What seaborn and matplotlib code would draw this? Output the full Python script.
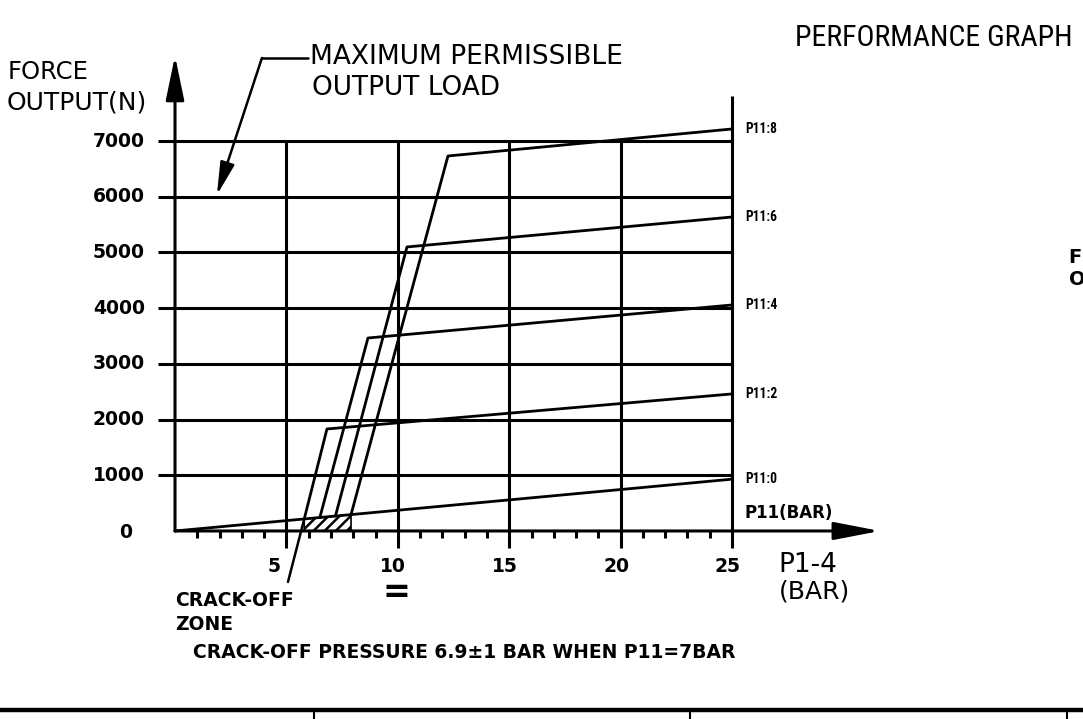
import numpy as np
import pandas as pd
import matplotlib
matplotlib.use("Agg")
import matplotlib.pyplot as plt
import seaborn as sns
from matplotlib import font_manager

# curve labels (P11 pressure, bar)
p11_labels = ['P11:0', 'P11:2', 'P11:4', 'P11:6', 'P11:8']

# base line P11:0
base_p14 = [0, 25]
base_force = [0, 930]

# P11:2..8 curves: leave the base line, rise steeply to a knee, then flat-ish to 25 bar
start_p14 = [5.8, 6.5, 7.2, 7.9]
start_force = [216, 242, 268, 294]
knee_p14 = [6.82, 8.66, 10.41, 12.25]
knee_force = [1831, 3464, 5098, 6731]
end_p14 = 25
end_force = [2460, 4057, 5636, 7216]

# axis ticks
x_ticks = [5, 10, 15, 20, 25]
x_minor = [i for i in range(1, 25) if i % 5]
y_ticks = [1000, 2000, 3000, 4000, 5000, 6000, 7000]

# crack-off zone (P1-4 range)
crack_zone = [5.8, 7.9]

# long table for seaborn
rows = [('P11:0', x, y) for x, y in zip(base_p14, base_force)]
for i, lab in enumerate(p11_labels[1:]):
    rows.append((lab, start_p14[i], start_force[i]))
    rows.append((lab, knee_p14[i], knee_force[i]))
    rows.append((lab, end_p14, end_force[i]))
df = pd.DataFrame(rows, columns=['curve', 'p14', 'force'])

sns.set_style('white')
plt.rcParams['font.family'] = ['DejaVu Sans']
plt.rcParams['text.color'] = 'black'
plt.rcParams['hatch.linewidth'] = 1.8

# pick a narrow face if one is installed
names = {f.name for f in font_manager.fontManager.ttflist}
narrow = 'DejaVu Sans'
for cand in ['Liberation Sans Narrow', 'Noto Sans ExtraCondensed', 'Noto Sans Condensed',
             'Roboto Condensed', 'DejaVu Sans Condensed', 'Open Sans Condensed']:
    if cand in names:
        narrow = cand
        break

fig = plt.figure(figsize=(10.83, 7.19), dpi=100)
ax = fig.add_axes([0, 0, 1, 1])

lw = 2.2
# grid
for y in y_ticks:
    ax.plot([-0.76, 25], [y, y], color='black', lw=lw, solid_capstyle='butt')
for x in x_ticks[:-1]:
    ax.plot([x, x], [-305, 7000], color='black', lw=lw, solid_capstyle='butt')
ax.plot([25, 25], [-305, 7800], color='black', lw=lw, solid_capstyle='butt')
for x in x_minor:
    ax.plot([x, x], [0, -125], color='black', lw=lw, solid_capstyle='butt')

# axes with arrows
ax.annotate('', xy=(31.64, 0), xytext=(0, 0),
            arrowprops=dict(arrowstyle='-|>,head_length=1.4,head_width=0.27', color='black',
                            lw=lw, shrinkA=0, shrinkB=0, mutation_scale=20))
ax.annotate('', xy=(0, 8530), xytext=(0, 0),
            arrowprops=dict(arrowstyle='-|>,head_length=1.35,head_width=0.28', color='black',
                            lw=lw, shrinkA=0, shrinkB=0, mutation_scale=20))

# curves
sns.lineplot(data=df, x='p14', y='force', units='curve', estimator=None, sort=False,
             color='black', lw=2.0, ax=ax, legend=False)

# crack-off zone hatch
zx = np.array(crack_zone)
zy = np.interp(zx, base_p14, base_force)
ax.fill_between(zx, 0, zy, hatch='///', facecolor='white', edgecolor='black', lw=1.2, zorder=1)
# leader from crack-off zone label (extension of the P11:2 rise)
ax.plot([start_p14[0], 5.07], [start_force[0], -915], color='black', lw=1.8)

# maximum permissible load leader
ax.plot([5.97, 3.9], [8490, 8490], color='black', lw=1.8)
ax.annotate('', xy=(1.88, 6030), xytext=(3.9, 8490),
            arrowprops=dict(arrowstyle='-|>,head_length=1.0,head_width=0.22', color='black',
                            lw=1.8, shrinkA=0, shrinkB=0, mutation_scale=20))

# tick labels
for y in y_ticks:
    ax.text(-1.35, y, str(y), ha='right', va='center', fontsize=13.5, fontweight='bold')
ax.text(-2.2, -36, '0', ha='center', va='center', fontsize=13.5, fontweight='bold')
for x in x_ticks:
    if x == 5:
        ax.text(4.75, -646, str(x), ha='right', va='center', fontsize=13.5, fontweight='bold')
    else:
        ax.text(x - 0.2, -646, str(x), ha='center', va='center', fontsize=13.5, fontweight='bold')
ax.text(9.96, -1100, '=', ha='center', va='center', fontsize=24, fontweight='bold')

# curve labels
fit = []
ends = [base_force[-1]] + end_force
for lab, y in zip(p11_labels, ends):
    t = ax.text(25.58, y, lab, ha='left', va='center', fontsize=9,
                fontweight='bold', family=narrow, fontstretch='condensed')
    fit.append((t, 32, 11))
ax.text(25.58, 320, 'P11(BAR)', ha='left', va='center', fontsize=12, fontweight='bold')

# axis titles
ax.text(27.06, -610, 'P1-4', ha='left', va='center', fontsize=19)
ax.text(27.1, -1095, '(BAR)', ha='left', va='center', fontsize=18)
ax.text(-7.5, 8240, 'FORCE', ha='left', va='center', fontsize=17.5)
ax.text(-7.55, 7700, 'OUTPUT(N)', ha='left', va='center', fontsize=18)
ax.text(6.06, 8508, 'MAXIMUM PERMISSIBLE', ha='left', va='center', fontsize=19)
ax.text(6.15, 7952, 'OUTPUT LOAD', ha='left', va='center', fontsize=19)
t = ax.text(27.83, 8850, 'PERFORMANCE GRAPH', ha='left', va='center', fontsize=17,
            family=narrow, fontstretch='condensed')
fit.append((t, 278, 27))
ax.text(0.0, -1239, 'CRACK-OFF', ha='left', va='center', fontsize=13.5, fontweight='bold')
ax.text(0.0, -1687, 'ZONE', ha='left', va='center', fontsize=13.5, fontweight='bold')
ax.text(0.81, -2190, 'CRACK-OFF PRESSURE 6.9±1 BAR WHEN P11=7BAR', ha='left', va='center',
        fontsize=13.5, fontweight='bold')

# neighbouring graph, only its first letters show at the right edge
ax.text(40.1, 4900, 'F', ha='left', va='center', fontsize=14, fontweight='bold')
ax.text(40.1, 4506, 'O', ha='left', va='center', fontsize=14, fontweight='bold')

# title block border at the bottom
ax.plot([-8, 41], [-3213, -3213], color='black', lw=3.2)
for x in [6.24, 23.11, 40.04]:
    ax.plot([x, x], [-3213, -3400], color='black', lw=1.5)

ax.set_xlim(-7.854, 40.75)
ax.set_ylim(-3375, 9531)
ax.axis('off')

# scale narrow texts so their width matches the drawing (height capped)
fig.canvas.draw()
r = fig.canvas.get_renderer()
for t, w_px, cap_px in fit:
    w = t.get_window_extent(r).width
    size = t.get_fontsize() * w_px / w
    t.set_fontsize(min(size, cap_px / 0.73 * 0.72))

fig.savefig('out.png', dpi=100)
